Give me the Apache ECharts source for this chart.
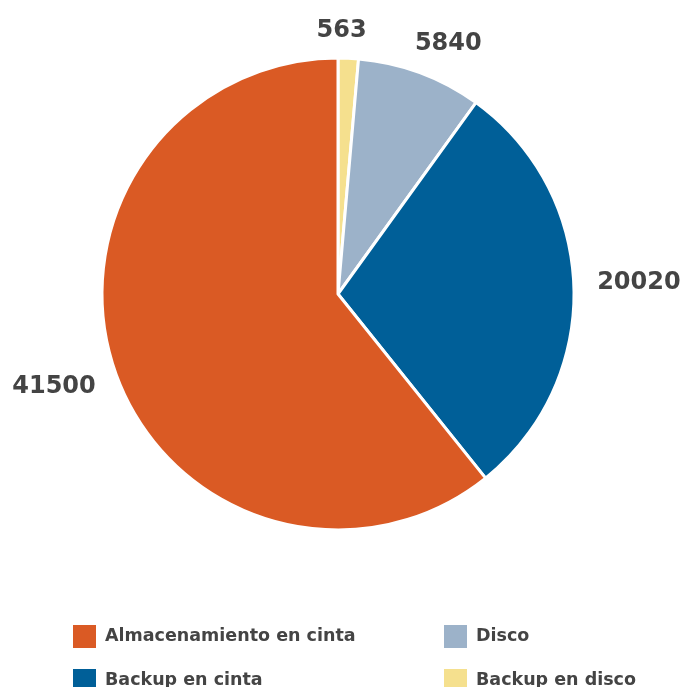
<!DOCTYPE html>
<html><head><meta charset="utf-8">
<script src="https://cdn.jsdelivr.net/npm/echarts@6/dist/echarts.min.js"></script>
<style>html,body{margin:0;padding:0;background:#fff}#c{width:683px;height:687px}</style>
</head><body><div id="c"></div>
<script>
const categories = ["Backup en disco", "Disco", "Backup en cinta", "Almacenamiento en cinta"];
const values = [563, 5840, 20020, 41500];
const colors = ["#F5E08E", "#9CB2C9", "#005F98", "#DA5A24"];
const legendLeft = ["Almacenamiento en cinta", "Backup en cinta"];
const legendRight = ["Disco", "Backup en disco"];
// label styling: which ring each value label sits on, and small nudges
const nearRing = ["Backup en disco", "Disco"];
const labelNudge = {"Backup en disco": [-8, 2], "Disco": [18, -2], "Backup en cinta": [0, -4], "Almacenamiento en cinta": [0, -7]};

const chart = echarts.init(document.getElementById('c'));
const legendBase = {
  orient: 'vertical', top: 623, height: 120, padding: 0,
  itemWidth: 25, itemHeight: 25, itemGap: 17,
  icon: 'rect',
  textStyle: {fontFamily: 'DejaVu Sans', fontWeight: 'bold', fontSize: 17.5, color: '#444', padding: [0, 0, 0, 3]},
  selectedMode: false
};
const labelFont = {fontFamily: 'DejaVu Sans', fontWeight: 'bold', fontSize: 24, color: '#444'};
const common = {type: 'pie', center: [338, 294], startAngle: 90, minAngle: 5, clockwise: true, silent: true};
function labelSeries(radius, useNear) {
  return Object.assign({}, common, {
    radius: radius,
    data: categories.map((n, i) => {
      const near = nearRing.indexOf(n) >= 0;
      return {name: n, value: values[i], label: {show: near === useNear, offset: labelNudge[n]}};
    }),
    itemStyle: {color: 'rgba(0,0,0,0)', borderWidth: 0},
    label: Object.assign({position: 'inside', formatter: '{c}'}, labelFont),
    labelLine: {show: false}
  });
}
chart.setOption({
  animation: false,
  color: colors,
  legend: [
    Object.assign({}, legendBase, {left: 71, data: legendLeft}),
    Object.assign({}, legendBase, {left: 442, data: legendRight})
  ],
  series: [Object.assign({}, common, {
    radius: 236,
    data: categories.map((n, i) => ({name: n, value: values[i]})),
    itemStyle: {borderColor: '#fff', borderWidth: 3},
    label: {show: false},
    labelLine: {show: false}
  }),
  labelSeries([256, 268], true),
  labelSeries([292, 304], false)]
});
</script></body></html>
